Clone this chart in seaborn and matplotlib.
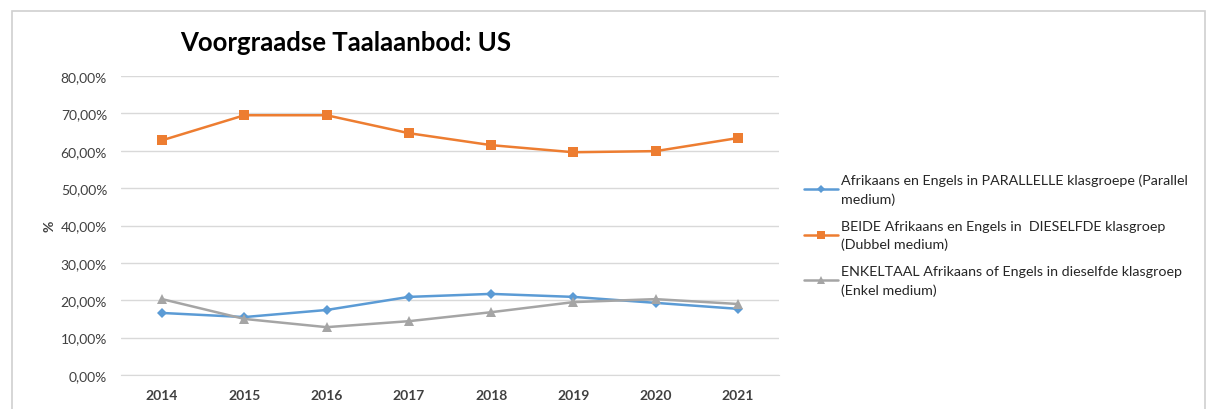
import pandas as pd
import seaborn as sns
import matplotlib.pyplot as plt
from matplotlib.patches import Rectangle
from matplotlib.ticker import FuncFormatter

years = ["2014", "2015", "2016", "2017", "2018", "2019", "2020", "2021"]
parallel = [16.6, 15.5, 17.4, 20.9, 21.7, 20.9, 19.3, 17.7]
dubbel = [62.8, 69.5, 69.5, 64.7, 61.5, 59.6, 59.9, 63.4]
enkel = [20.3, 15.0, 12.8, 14.4, 16.8, 19.5, 20.3, 19.0]

labels = [
    "Afrikaans en Engels in PARALLELLE klasgroepe (Parallel\nmedium)",
    "BEIDE Afrikaans en Engels in  DIESELFDE klasgroep\n(Dubbel medium)",
    "ENKELTAAL Afrikaans of Engels in dieselfde klasgroep\n(Enkel medium)",
]
colors = ["#5b9bd5", "#ed7d31", "#a5a5a5"]
markers = ["D", "s", "^"]
msizes = [5.5, 7, 7]

df = pd.DataFrame({
    "jaar": years * 3,
    "waarde": parallel + dubbel + enkel,
    "reeks": [labels[0]] * 8 + [labels[1]] * 8 + [labels[2]] * 8,
})

sns.set_style("white")
plt.rcParams['font.family'] = ['Lato', 'DejaVu Sans']

fig = plt.figure(figsize=(12.09, 4.10), dpi=100)
ax = fig.add_axes([121 / 1209, 1 - 376 / 410, (779 - 121) / 1209, (376 - 77) / 410])

# excel chart frame
fig.patches.append(Rectangle((12 / 1209, -0.01), 1193 / 1209, 1 - 12 / 410 + 0.01,
                             transform=fig.transFigure, fill=False,
                             edgecolor="#d0d0d0", linewidth=1.2))

sns.lineplot(data=df, x="jaar", y="waarde", hue="reeks", style="reeks",
             palette=dict(zip(labels, colors)),
             markers=dict(zip(labels, markers)), dashes=False,
             linewidth=1.8, markeredgewidth=0, ax=ax)
for line, ms in zip(ax.lines, msizes):
    line.set_markersize(ms)

ax.set_ylim(0, 80)
ax.set_xlim(-0.5, 7.5)
ax.set_yticks(range(0, 81, 10))
ax.yaxis.set_major_formatter(FuncFormatter(lambda v, p: f"{v:.2f}%".replace(".", ",")))
ax.grid(axis="y", color="#d9d9d9", linewidth=1)
ax.set_axisbelow(True)
for s in ["top", "right", "left"]:
    ax.spines[s].set_visible(False)
ax.spines["bottom"].set_color("#d9d9d9")
ax.tick_params(axis="both", length=0, labelsize=10, colors="#404040")
ax.tick_params(axis="x", pad=10)
ax.tick_params(axis="y", pad=10)
for t in ax.get_xticklabels():
    t.set_fontweight("bold")
ax.set_xlabel("")
ax.set_ylabel("%", fontsize=10, fontweight="bold", color="#404040", labelpad=4)

fig.text(180 / 1209, 1 - 43 / 410, "Voorgraadse Taalaanbod: US", fontsize=18.5,
         fontweight="bold", va="center", ha="left", color="black")

h, l = ax.get_legend_handles_labels()
for hd, ms in zip(h, msizes):
    hd.set_markersize(ms - 1.5)
leg = ax.legend(h, l, loc="upper left", bbox_to_anchor=(791 / 1209, 1 - 162 / 410),
                bbox_transform=fig.transFigure, frameon=False, fontsize=10.3,
                handlelength=2.4, labelspacing=1.05, handletextpad=0.2)
for t in leg.get_texts():
    t.set_linespacing(1.55)
    t.set_color("#262626")

fig.savefig("out.png", dpi=100)
